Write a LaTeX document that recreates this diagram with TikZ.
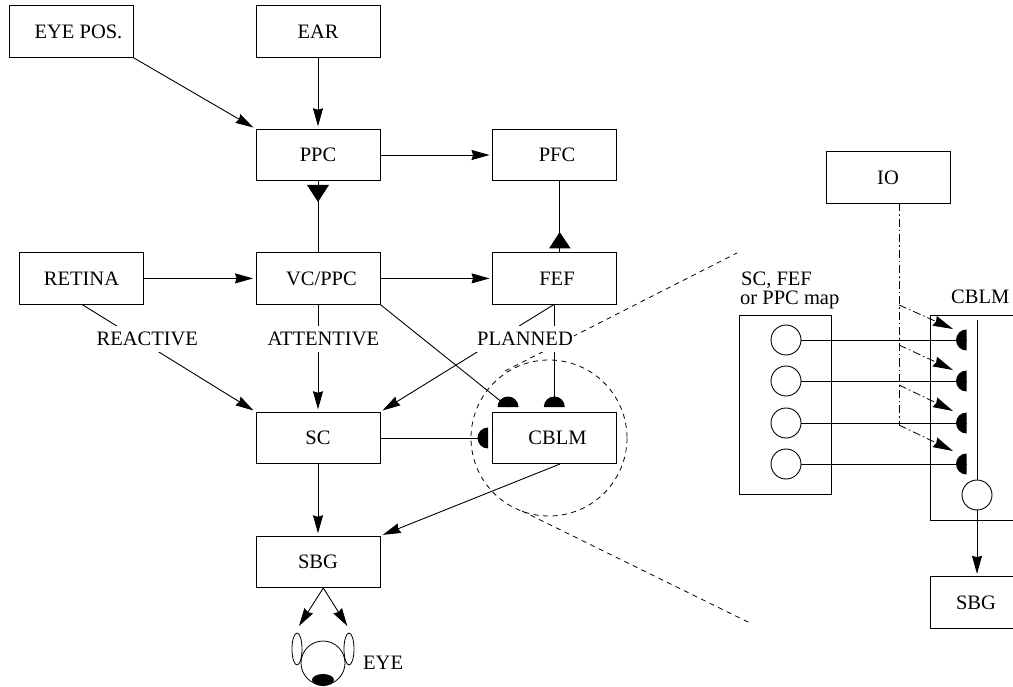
\documentclass[tikz,border=0pt]{standalone}
\usepackage{fontspec}
\setmainfont{Liberation Serif}
\usetikzlibrary{arrows.meta,shapes.geometric}
\tikzset{
  box/.style={draw,line width=.9pt,minimum width=124pt,minimum height=51.5pt,inner sep=0pt,font=\fontsize{20.5}{24}\selectfont},
  txt/.style={inner sep=0pt,font=\fontsize{20.5}{24}\selectfont},
  lab/.style={fill=white,inner xsep=1pt,inner ysep=6pt,font=\fontsize{20.5}{24}\selectfont},
  conn/.style={line width=.9pt},
  arr/.style={line width=.9pt,-{Stealth[length=18pt,width=10pt,inset=1.5pt]}},
  arrs/.style={arr,shorten >=2.5pt},
  dd/.style={line width=.8pt,dash pattern=on 8pt off 3pt on 1.5pt off 3pt,-{Stealth[length=20pt,width=10.5pt,inset=1.5pt]}},
  ddn/.style={line width=.8pt,dash pattern=on 8pt off 3pt on 1.5pt off 3pt},
  dsh/.style={line width=.8pt,dash pattern=on 5pt off 4.5pt},
  cell/.style={draw,circle,line width=.9pt,minimum size=30pt,inner sep=0pt},
  oval/.style={draw,ellipse,line width=.8pt,minimum width=10pt,minimum height=32pt,inner sep=0pt},
}
\newcommand{\hdL}[1]{\fill (#1) ++(0,10.5) arc[start angle=90,end angle=270,radius=10.5] -- cycle;}
\newcommand{\hdU}[1]{\fill (#1) ++(-10.5,0) arc[start angle=180,end angle=360,radius=10.5] -- cycle;}
\begin{document}
\begin{tikzpicture}[x=1pt,y=-1pt]
\useasboundingbox (0,0) rectangle (1013,687);
\clip (0,0) rectangle (1013,687);
% boxes
\node[box] (eyepos) at (71,31.5) {\hspace*{15pt}EYE POS.};
\node[box] (ear) at (318,31.5) {EAR};
\node[box] (ppc) at (318,155) {PPC};
\node[box] (pfc) at (554.5,155) {\hspace*{5pt}PFC};
\node[box] (io) at (888,177.5) {IO};
\node[box] (retina) at (81.5,278.4) {RETINA};
\node[box] (vc) at (318,278.4) {\hspace*{7pt}VC/PPC};
\node[box] (fef) at (554.5,278.4) {\hspace*{5pt}FEF};
\node[box] (sc) at (318,438) {SC};
\node[box] (cblm) at (554.5,438) {\hspace*{6pt}CBLM};
\node[box] (sbg) at (318,562) {SBG};
\node[box,minimum width=92pt,minimum height=179pt] (map) at (785.5,404.5) {};
\node[box,minimum width=124pt,minimum height=205pt] (cbox) at (992,417.5) {};
\node[box,minimum width=92pt] (sbgr) at (976,602.5) {SBG};
% main connectors
\draw[arrs] (ear) -- (ppc);
\draw[arrs] (eyepos.south east) -- (ppc.north west);
\draw[arrs] (ppc) -- (pfc);
\draw[arrs] (retina) -- (vc);
\draw[arrs] (vc) -- (fef);
\draw[arrs] (vc) -- (sc);
\draw[arrs] (sc) -- (sbg);
\coordinate (retb) at (81.7,304.3);
\draw[arrs] (retb) -- (sc.north west);
\coordinate (fefb) at (554.3,304.3);
\draw[arrs] (fefb) -- (sc.north east);
\coordinate (cblmb) at (560,464);
\draw[arrs] (cblmb) -- (sbg.north east);
% triangles
\coordinate (pft) at (559.7,180.8);
\coordinate (pfb) at (559.7,252.7);
\draw[conn] (ppc) -- (vc);
\draw[conn] (pfb) -- (pft);
\fill (307,185) -- (329,185) -- (318,202) -- cycle;
\fill (549,248.5) -- (570.7,248.5) -- (559.7,232) -- cycle;
% half discs
\coordinate (hA) at (508,407);
\coordinate (hB) at (554.3,407);
\coordinate (hC) at (488,438);
\hdU{hA}\hdU{hB}\hdL{hC}
\coordinate (vcb) at (380,304.3);
\draw[conn] (vcb) -- (hA);
\draw[conn] (fefb) -- (hB);
\draw[conn] (sc.east) -- (hC);
% zoom circle
\coordinate (zc) at (549,438);
\draw[dsh] (zc) circle[radius=78];
\coordinate (zt) at (505,371);
\coordinate (zb) at (522,511);
\coordinate (zt2) at (737,253);
\coordinate (zb2) at (750,623);
\draw[dsh] (zt) -- (zt2);
\draw[dsh] (zb) -- (zb2);
% labels
\node[lab] (l1) at (147.3,339) {REACTIVE};
\node[lab] (l2) at (323.3,339) {ATTENTIVE};
\node[lab] (l3) at (525,339) {PLANNED};
% eye
\node[draw,circle,line width=.8pt,minimum size=44pt,inner sep=0pt] (head) at (323,663) {};
\node[oval] (earL) at (297,649) {};
\node[oval] (earR) at (349,649) {};
\node[fill,ellipse,minimum width=22pt,minimum height=12pt,inner sep=0pt] (pupil) at (323,680) {};
\node[txt,anchor=west] (eye) at (363,663) {EYE};
\coordinate (sb) at (323.3,588);
\coordinate (aL) at (299,626);
\coordinate (aR) at (347.3,626);
\draw[arr] (sb) -- (aL);
\draw[arr] (sb) -- (aR);
% right panel
\node[txt,anchor=base west] (t1) at (741,286) {SC, FEF};
\node[txt,anchor=base west] (t2) at (740,305) {or PPC map};
\node[txt,anchor=base west] (t3) at (951,304) {CBLM};
\foreach \n/\y in {a/340,b/381,c/423,d/464}{
  \node[cell] (c\n) at (786,\y) {};
  \coordinate (h\n) at (966.5,\y);
  \hdL{h\n}
  \draw[conn] (c\n) -- (h\n);
}
\node[cell] (out) at (977,495) {};
\coordinate (vt) at (977,320);
\draw[conn] (vt) -- (out);
\draw[arrs] (out) -- (sbgr.north -| out);
\coordinate (iob) at (899,203.5);
\coordinate (iom) at (899,425);
\draw[ddn] (iob) -- (iom);
\foreach \y/\e in {305/329,345/370,385/411,425/451}{
  \coordinate (s\y) at (899,\y);
  \coordinate (e\y) at (953,\e);
  \draw[dd] (s\y) -- (e\y);
}
\end{tikzpicture}
\end{document}
